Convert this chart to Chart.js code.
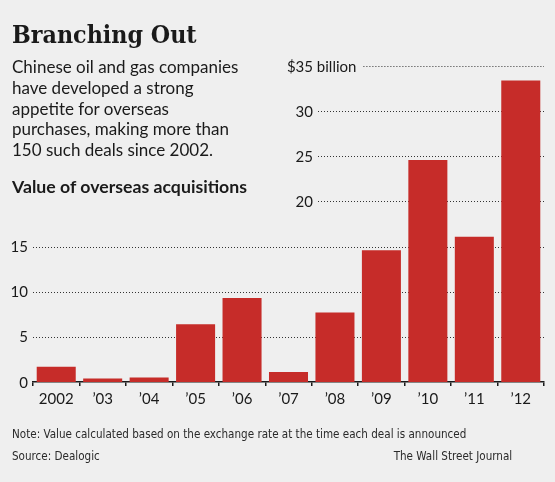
<!DOCTYPE html>
<html lang="en">
<head>
    <meta charset="UTF-8">
    <title>Branching Out</title>
    <script src="https://cdn.jsdelivr.net/npm/chart.js"></script>
    <style>
        html, body {
            margin: 0;
            padding: 0;
            background: #efefef;
        }
        .wrap {
            position: relative;
            width: 555px;
            height: 482px;
            background: #efefef;
            color: #1a1a1a;
            overflow: hidden;
        }
        canvas {
            position: absolute;
            left: 0;
            top: 0;
        }
        .title {
            position: absolute;
            left: 12px;
            top: 22px;
            font-family: "DejaVu Serif", serif;
            font-weight: bold;
            font-size: 25px;
            line-height: 25px;
            white-space: nowrap;
            transform: scaleX(0.89);
            transform-origin: left top;
        }
        .intro {
            position: absolute;
            left: 12px;
            top: 57px;
            width: 260px;
            font-family: Lato, sans-serif;
            font-size: 17px;
            line-height: 20.8px;
        }
        .subhead {
            position: absolute;
            left: 12px;
            top: 177px;
            font-family: Lato, sans-serif;
            font-weight: bold;
            font-size: 17.7px;
            line-height: 20.8px;
            white-space: nowrap;
        }
        .note, .source, .credit {
            position: absolute;
            font-family: "Liberation Sans Narrow", "DejaVu Sans Condensed", sans-serif;
            font-size: 13px;
            line-height: 16px;
            color: #2a2a2a;
            white-space: nowrap;
            transform: scaleX(0.89);
        }
        .note { left: 12px; top: 426px; transform-origin: left top; }
        .source { left: 12px; top: 448px; transform-origin: left top; }
        .credit { right: 43px; top: 448px; transform-origin: right top; }
    </style>
</head>
<body>
<div class="wrap">
    <canvas id="myChart" width="555" height="482"></canvas>
    <div class="title">Branching Out</div>
    <div class="intro">Chinese oil and gas companies<br>have developed a strong<br>appetite for overseas<br>purchases, making more than<br>150 such deals since 2002.</div>
    <div class="subhead">Value of overseas acquisitions</div>
    <div class="note">Note: Value calculated based on the exchange rate at the time each deal is announced</div>
    <div class="source">Source: Dealogic</div>
    <div class="credit">The Wall Street Journal</div>
</div>

<script>
    // data, billions of dollars
    const years = ['2002', '\u201903', '\u201904', '\u201905', '\u201906', '\u201907',
                   '\u201908', '\u201909', '\u201910', '\u201911', '\u201912'];
    const values = [1.7, 0.4, 0.5, 6.4, 9.3, 1.1, 7.7, 14.6, 24.6, 16.1, 33.4];
    const yTicks = [0, 5, 10, 15, 20, 25, 30, 35];

    // ticks from 20 up are pushed right, clear of the text block
    const upperFrom = 20;
    const upperLabelX = 313;

    const yGrid = {
        id: 'yGrid',
        beforeDatasetsDraw(chart) {
            const ctx = chart.ctx;
            const area = chart.chartArea;
            const y = chart.scales.y;
            const top = yTicks[yTicks.length - 1];
            ctx.save();
            ctx.font = '15px Lato, sans-serif';
            ctx.fillStyle = '#1a1a1a';
            ctx.textBaseline = 'alphabetic';
            yTicks.forEach(v => {
                const py = y.getPixelForValue(v);
                const high = v >= upperFrom;
                const anchor = high ? upperLabelX : area.left - 5;
                ctx.textAlign = 'right';
                ctx.fillText((v === top ? '$' : '') + v, anchor, py + 5.5);
                let start = high ? anchor + 5 : area.left;
                if (v === top) {
                    ctx.textAlign = 'left';
                    const extra = ' billion';
                    ctx.fillText(extra, anchor, py + 5.5);
                    start = anchor + ctx.measureText(extra).width + 7;
                }
                if (v > 0) {
                    ctx.beginPath();
                    ctx.setLineDash([1, 2]);
                    ctx.strokeStyle = '#333';
                    ctx.lineWidth = 1;
                    ctx.moveTo(start, Math.round(py) + 0.5);
                    ctx.lineTo(area.right, Math.round(py) + 0.5);
                    ctx.stroke();
                }
            });
            ctx.restore();
        }
    };

    const ctx = document.getElementById('myChart').getContext('2d');
    const chart = new Chart(ctx, {
        type: 'bar',
        data: {
            labels: years,
            datasets: [{
                data: values,
                backgroundColor: '#c62c29',
                borderWidth: 0,
                barPercentage: 0.84,
                categoryPercentage: 1
            }]
        },
        options: {
            responsive: false,
            animation: false,
            layout: {
                padding: { left: 33, right: 11, top: 66, bottom: 70 }
            },
            plugins: {
                legend: { display: false },
                tooltip: { enabled: false }
            },
            scales: {
                x: {
                    grid: {
                        drawOnChartArea: false,
                        drawTicks: true,
                        tickLength: 4,
                        color: '#1a1a1a',
                        lineWidth: 1.5
                    },
                    border: { color: '#1a1a1a', width: 1.5 },
                    ticks: {
                        color: '#1a1a1a',
                        font: { family: 'Lato, sans-serif', size: 15 },
                        padding: 4,
                        maxRotation: 0,
                        autoSkip: false
                    }
                },
                y: {
                    display: false,
                    min: 0,
                    max: 35
                }
            }
        },
        plugins: [yGrid]
    });
</script>
</body>
</html>
